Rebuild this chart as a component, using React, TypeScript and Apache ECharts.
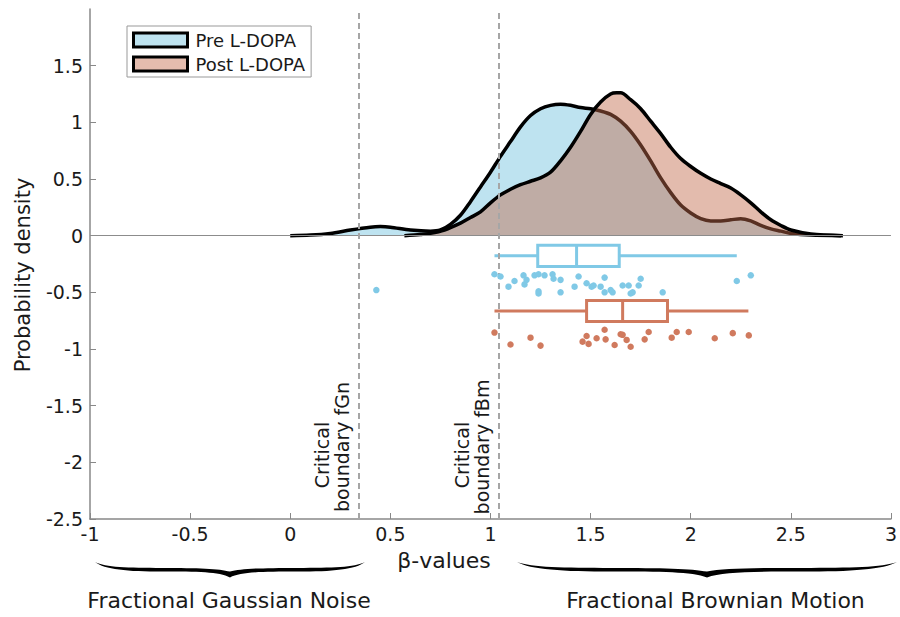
import React, { useEffect, useRef } from "react";
import * as echarts from "echarts";

const FONT = '"DejaVu Sans", Verdana, sans-serif';
const TXT = "#1a1a1a";

// Kernel density estimates (x = beta value, y = probability density)
const preDensityX = [0.0, 0.1, 0.2, 0.3, 0.4, 0.45, 0.5, 0.6, 0.7, 0.75, 0.8, 0.85, 0.9, 0.95, 1.0, 1.05, 1.1, 1.15, 1.2, 1.25, 1.3, 1.35, 1.4, 1.45, 1.5, 1.55, 1.6, 1.65, 1.7, 1.75, 1.8, 1.85, 1.9, 1.95, 2.0, 2.05, 2.1, 2.15, 2.2, 2.25, 2.3, 2.35, 2.4, 2.45, 2.5, 2.6, 2.75];
const preDensityY = [0, 0.005, 0.02, 0.05, 0.075, 0.08, 0.075, 0.05, 0.04, 0.05, 0.1, 0.18, 0.3, 0.43, 0.56, 0.7, 0.83, 0.96, 1.06, 1.12, 1.15, 1.16, 1.15, 1.13, 1.12, 1.1, 1.07, 1.01, 0.92, 0.8, 0.66, 0.51, 0.38, 0.27, 0.2, 0.15, 0.13, 0.13, 0.14, 0.15, 0.13, 0.09, 0.06, 0.04, 0.02, 0.005, 0];
const postDensityX = [0.57, 0.65, 0.7, 0.77, 0.85, 0.9, 0.95, 1.0, 1.05, 1.1, 1.15, 1.2, 1.25, 1.3, 1.35, 1.4, 1.45, 1.5, 1.55, 1.6, 1.63, 1.65, 1.7, 1.75, 1.8, 1.85, 1.9, 1.95, 2.0, 2.05, 2.1, 2.15, 2.2, 2.25, 2.3, 2.35, 2.4, 2.45, 2.5, 2.6, 2.76];
const postDensityY = [0, 0.01, 0.02, 0.05, 0.11, 0.16, 0.21, 0.29, 0.36, 0.41, 0.45, 0.48, 0.51, 0.56, 0.66, 0.78, 0.92, 1.07, 1.18, 1.25, 1.26, 1.26, 1.2, 1.12, 1.01, 0.9, 0.78, 0.68, 0.61, 0.55, 0.5, 0.46, 0.42, 0.36, 0.29, 0.21, 0.14, 0.09, 0.05, 0.015, 0];

// Individual beta values (raincloud dots, jittered rows)
const preDotsX = [1.02, 1.05, 1.09, 1.12, 1.165, 1.18, 1.17, 1.22, 1.24, 1.24, 1.24, 1.27, 1.31, 1.315, 1.35, 1.35, 1.42, 1.44, 1.48, 1.505, 1.515, 1.55, 1.57, 1.57, 1.6, 1.61, 1.66, 1.69, 1.7, 1.71, 1.74, 1.75, 1.86, 2.23, 2.3, 0.43];
const preDotsY = [-0.34, -0.36, -0.45, -0.4, -0.35, -0.39, -0.43, -0.35, -0.34, -0.49, -0.51, -0.35, -0.34, -0.38, -0.39, -0.5, -0.45, -0.36, -0.42, -0.45, -0.44, -0.45, -0.37, -0.5, -0.48, -0.5, -0.44, -0.44, -0.51, -0.5, -0.44, -0.38, -0.5, -0.4, -0.35, -0.48];
const postDotsX = [1.02, 1.1, 1.2, 1.25, 1.46, 1.48, 1.49, 1.53, 1.57, 1.575, 1.62, 1.65, 1.66, 1.68, 1.7, 1.77, 1.79, 1.905, 1.93, 1.99, 2.12, 2.21, 2.29];
const postDotsY = [-0.855, -0.96, -0.9, -0.97, -0.935, -0.885, -0.955, -0.905, -0.83, -0.915, -0.965, -0.87, -0.875, -0.92, -0.98, -0.915, -0.85, -0.9, -0.85, -0.85, -0.905, -0.86, -0.88];

// Box plot statistics: [lower whisker, Q1, median, Q3, upper whisker]
const preBox = [1.02, 1.236, 1.43, 1.643, 2.23];
const postBox = [1.02, 1.48, 1.66, 1.884, 2.288];
const boxRowY = [-0.178, -0.665];

// Critical boundaries
const boundaryX = [0.335, 1.04];

const xTicks = [-1, -0.5, 0, 0.5, 1, 1.5, 2, 2.5, 3];
const yTicks = [-2.5, -2, -1.5, -1, -0.5, 0, 0.5, 1, 1.5];

const seriesNames = ["Pre L-DOPA", "Post L-DOPA"];

const PRE_FILL = "#bee3f0";
const POST_FILL = "rgba(193,105,75,0.455)";
const POST_LEGEND = "#e4bcae";
const BLUE = "#80c9e6";
const ORANGE = "#d07a5e";

const BRACE_D =
  "M0 0 C40 35 120 38 250 38 C380 38 460 42 500 62 C540 42 620 38 750 38 C880 38 960 35 1000 0 " +
  "C965 48 880 62 750 62 C620 62 540 64 500 100 C460 64 380 62 250 62 C120 62 35 48 0 0 Z";
echarts.graphic.registerShape("brace", echarts.graphic.extendPath(BRACE_D, {}));

const BOX_HALF = 0.093;

function zip(xs: number[], ys: number[]) {
  return xs.map((x, i) => [x, ys[i]]);
}

function boxRender(color: string) {
  return (params: any, api: any) => {
    const lo = api.value(0), q1 = api.value(1), med = api.value(2), q3 = api.value(3), hi = api.value(4), yc = api.value(5);
    const pLo = api.coord([lo, yc]);
    const pQ1 = api.coord([q1, yc]);
    const pMed = api.coord([med, yc]);
    const pQ3 = api.coord([q3, yc]);
    const pHi = api.coord([hi, yc]);
    const top = api.coord([q1, yc + BOX_HALF])[1];
    const bot = api.coord([q1, yc - BOX_HALF])[1];
    const st = { stroke: color, lineWidth: 3, fill: null };
    return {
      type: "group",
      children: [
        { type: "line", shape: { x1: pLo[0], y1: pLo[1], x2: pQ1[0], y2: pQ1[1] }, style: st },
        { type: "line", shape: { x1: pQ3[0], y1: pQ3[1], x2: pHi[0], y2: pHi[1] }, style: st },
        { type: "rect", shape: { x: pQ1[0], y: top, width: pQ3[0] - pQ1[0], height: bot - top }, style: { stroke: color, lineWidth: 3, fill: "#fff" } },
        { type: "line", shape: { x1: pMed[0], y1: top, x2: pMed[0], y2: bot }, style: st },
      ],
    };
  };
}

export default function App() {
  const ref = useRef<HTMLDivElement>(null);
  useEffect(() => {
    if (!ref.current) return;
    const chart = echarts.init(ref.current, null, { renderer: "svg" });
    const option: any = {
      animation: false,
      grid: { left: 90, right: 8, top: 9, bottom: 98, containLabel: false },
      legend: {
        left: 127,
        top: 26,
        orient: "vertical",
        itemWidth: 54,
        itemHeight: 14,
        itemGap: 6,
        padding: [5, 6, 4, 5],
        borderColor: "#999",
        borderWidth: 1,
        backgroundColor: "#fff",
        selectedMode: false,
        textStyle: { fontFamily: FONT, fontSize: 18, color: TXT, padding: [0, 0, 0, 3] },
        data: [
          { name: seriesNames[0], icon: "rect", itemStyle: { color: PRE_FILL, borderColor: "#000", borderWidth: 3 } },
          { name: seriesNames[1], icon: "rect", itemStyle: { color: POST_LEGEND, borderColor: "#000", borderWidth: 3 } },
        ],
      },
      xAxis: {
        type: "value",
        min: -1,
        max: 3,
        interval: 0.5,
        name: "β-values",
        nameLocation: "middle",
        nameGap: 30,
        nameTextStyle: { fontFamily: FONT, fontSize: 22, color: TXT, padding: [0, 93, 0, 0] },
        axisLine: { onZero: false, lineStyle: { color: "#888", width: 1.5 } },
        axisTick: { inside: true, length: 6, lineStyle: { color: "#888" }, customValues: xTicks },
        axisLabel: { fontFamily: FONT, fontSize: 19, color: TXT, margin: 5, customValues: xTicks },
        splitLine: { show: false },
      },
      yAxis: {
        type: "value",
        min: -2.5,
        max: 2,
        interval: 0.5,
        name: "Probability density",
        nameLocation: "middle",
        nameGap: 57,
        nameTextStyle: { fontFamily: FONT, fontSize: 21, color: TXT, padding: [0, 22, 0, 0] },
        axisLine: { show: true, onZero: false, lineStyle: { color: "#888", width: 1.5 } },
        axisTick: { show: true, inside: true, length: 6, lineStyle: { color: "#888" }, customValues: yTicks },
        axisLabel: { fontFamily: FONT, fontSize: 19, color: TXT, margin: 7, customValues: yTicks },
        splitLine: { show: false },
      },
      series: [
        {
          type: "line",
          name: "zero",
          data: [],
          z: 1,
          silent: true,
          markLine: {
            silent: true,
            symbol: ["none", "none"],
            label: { show: false },
            lineStyle: { color: "#8c8c8c", width: 1.2, type: "solid" },
            data: [{ yAxis: 0 }],
          },
        },
        {
          type: "line",
          name: seriesNames[0],
          data: zip(preDensityX, preDensityY),
          smooth: 0.3,
          showSymbol: false,
          z: 2,
          lineStyle: { color: "#000", width: 3.5 },
          itemStyle: { color: PRE_FILL },
          areaStyle: { color: PRE_FILL, opacity: 1 },
        },
        {
          type: "line",
          name: seriesNames[1],
          data: zip(postDensityX, postDensityY),
          smooth: 0.3,
          showSymbol: false,
          z: 3,
          lineStyle: { color: "#000", width: 3.5 },
          itemStyle: { color: POST_LEGEND },
          areaStyle: { color: POST_FILL, opacity: 1 },
        },
        {
          type: "custom",
          name: "preBox",
          z: 4,
          renderItem: boxRender(BLUE),
          data: [[...preBox, boxRowY[0]]],
          encode: { x: [0, 1, 2, 3, 4], y: 5 },
        },
        {
          type: "custom",
          name: "postBox",
          z: 4,
          renderItem: boxRender(ORANGE),
          data: [[...postBox, boxRowY[1]]],
          encode: { x: [0, 1, 2, 3, 4], y: 5 },
        },
        {
          type: "scatter",
          name: "preDots",
          z: 5,
          symbolSize: 6.5,
          itemStyle: { color: BLUE, opacity: 1 },
          data: zip(preDotsX, preDotsY),
        },
        {
          type: "scatter",
          name: "postDots",
          z: 5,
          symbolSize: 6.5,
          itemStyle: { color: ORANGE, opacity: 1 },
          data: zip(postDotsX, postDotsY),
          markLine: {
            silent: true,
            symbol: ["none", "none"],
            label: { show: false },
            lineStyle: { color: "#a6a6a6", width: 2, type: [6, 4] },
            data: boundaryX.map((v) => ({ xAxis: v })),
          },
        },
      ],
      graphic: [
        { type: "text", x: 321.7, y: 455, rotation: Math.PI / 2, style: { text: "Critical", fontFamily: FONT, fontSize: 19, fill: TXT, align: "center", verticalAlign: "middle" } },
        { type: "text", x: 341.7, y: 447, rotation: Math.PI / 2, style: { text: "boundary fGn", fontFamily: FONT, fontSize: 19, fill: TXT, align: "center", verticalAlign: "middle" } },
        { type: "text", x: 461.7, y: 455, rotation: Math.PI / 2, style: { text: "Critical", fontFamily: FONT, fontSize: 19, fill: TXT, align: "center", verticalAlign: "middle" } },
        { type: "text", x: 481.7, y: 447, rotation: Math.PI / 2, style: { text: "boundary fBm", fontFamily: FONT, fontSize: 19, fill: TXT, align: "center", verticalAlign: "middle" } },
        { type: "brace", x: 95, y: 562, scaleX: 0.27, scaleY: 0.155, style: { fill: "#000" } },
        { type: "brace", x: 517, y: 562, scaleX: 0.38, scaleY: 0.155, style: { fill: "#000" } },
        { type: "text", x: 229, y: 600, style: { text: "Fractional Gaussian Noise", fontFamily: FONT, fontSize: 22, fill: TXT, align: "center", verticalAlign: "middle" } },
        { type: "text", x: 715.5, y: 600, style: { text: "Fractional Brownian Motion", fontFamily: FONT, fontSize: 22, fill: TXT, align: "center", verticalAlign: "middle" } },
      ],
    };
    chart.setOption(option);
    return () => chart.dispose();
  }, []);
  return <div ref={ref} style={{ position: "absolute", left: 0, top: 0, width: 900, height: 617 }} />;
}
